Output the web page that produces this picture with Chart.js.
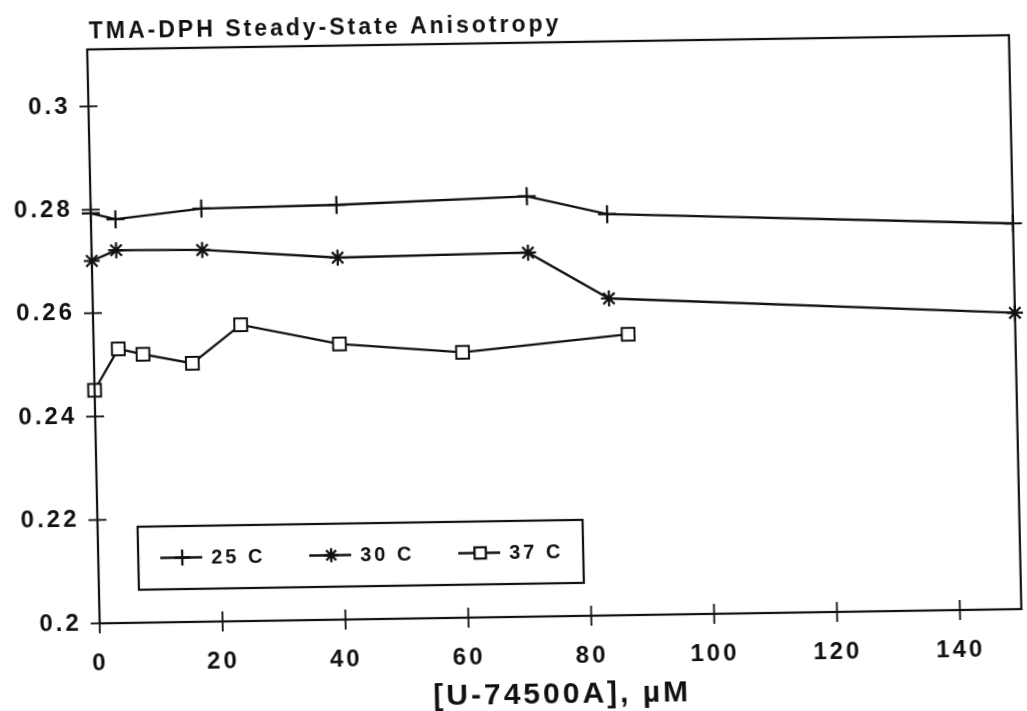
<!DOCTYPE html>
<html><head><meta charset="utf-8">
<script src="https://cdn.jsdelivr.net/npm/chart.js@4.4.1/dist/chart.umd.min.js"></script>
<style>
html,body{margin:0;padding:0;background:#fff;overflow:hidden}
#wrap{width:1027px;height:711px;transform:matrix(1,-0.0155,0.0217,1,0,0);transform-origin:513.5px 355.5px}
canvas{display:block}
</style></head><body>
<div id="wrap"><canvas id="c" width="1027" height="711"></canvas></div>
<script>
const chartTitle = 'TMA-DPH Steady-State Anisotropy';
const xAxisTitle = '[U-74500A], µM';
const seriesLabels = ['25 C', '30 C', '37 C'];
const x25 = [0, 4, 18, 40, 71, 84, 150];
const y25 = [0.2793, 0.2781, 0.2799, 0.2802, 0.2813, 0.2776, 0.2746];
const x30 = [0, 4, 18, 40, 71, 84, 150];
const y30 = [0.2701, 0.2721, 0.2719, 0.2700, 0.2704, 0.2613, 0.2573];
const x37 = [0, 4, 8, 16, 24, 40, 60, 87];
const y37 = [0.2451, 0.2530, 0.2519, 0.2500, 0.2573, 0.2533, 0.2513, 0.2543];
const xTicks = [0, 20, 40, 60, 80, 100, 120, 140];
const yTicks = [0.2, 0.22, 0.24, 0.26, 0.28, 0.3];
const xRange = [0, 150];
const yRange = [0.2, 0.311];

const INK = '#111';
const FONT = '"Liberation Sans", Arial, sans-serif';
const pts = (xs, ys) => xs.map((x, i) => ({x: x, y: ys[i]}));

const styles = [
  {pointStyle: 'cross', radius: 9, legendRadius: 8, bw: 2.2},
  {pointStyle: 'star', radius: 8, legendRadius: 7, bw: 2.2},
  {pointStyle: 'rect', radius: 9, legendRadius: 8, bw: 2}
];
const seriesData = [pts(x25, y25), pts(x30, y30), pts(x37, y37)];

const datasets = seriesData.map((d, i) => ({
  label: seriesLabels[i],
  data: d,
  borderColor: INK,
  borderWidth: 2.3,
  pointStyle: styles[i].pointStyle,
  pointRadius: styles[i].radius,
  pointBorderColor: INK,
  pointBorderWidth: styles[i].bw,
  pointBackgroundColor: '#fff',
  tension: 0,
  clip: false
}));

const spacingPlugin = {
  id: 'spacing',
  beforeDraw(chart) { chart.ctx.letterSpacing = '3px'; }
};

const framePlugin = {
  id: 'frame',
  afterDatasetsDraw(chart) {
    const ctx = chart.ctx, a = chart.chartArea, xs = chart.scales.x, ys = chart.scales.y;
    ctx.save();
    ctx.strokeStyle = INK;
    ctx.lineWidth = 2.2;
    ctx.strokeRect(a.left, a.top, a.right - a.left, a.bottom - a.top);
    ctx.lineWidth = 1.8;
    xs.ticks.forEach(t => {
      const px = xs.getPixelForValue(t.value);
      ctx.beginPath(); ctx.moveTo(px, a.bottom - 10); ctx.lineTo(px, a.bottom + 10); ctx.stroke();
    });
    ys.ticks.forEach(t => {
      const py = ys.getPixelForValue(t.value);
      ctx.beginPath(); ctx.moveTo(a.left - 9, py); ctx.lineTo(a.left + 9, py); ctx.stroke();
    });
    // title
    ctx.fillStyle = INK;
    ctx.letterSpacing = '3px';
    ctx.font = 'bold 23px ' + FONT;
    ctx.textAlign = 'left';
    ctx.textBaseline = 'middle';
    ctx.fillText(chartTitle, a.left + 2, 26);
    // legend box
    const bl = a.left + 40, bt = a.bottom - 96, bw = 445, bh = 63;
    ctx.lineWidth = 2.2;
    ctx.fillStyle = '#fff';
    ctx.fillRect(bl, bt, bw, bh);
    ctx.strokeRect(bl, bt, bw, bh);
    const cy = bt + bh / 2;
    chart.data.datasets.forEach((ds, i) => {
      const sx = bl + 22 + i * 149;
      ctx.strokeStyle = INK;
      ctx.lineWidth = 2.3;
      ctx.beginPath(); ctx.moveTo(sx, cy); ctx.lineTo(sx + 42, cy); ctx.stroke();
      ctx.fillStyle = '#fff';
      Chart.helpers.drawPoint(ctx, {pointStyle: ds.pointStyle, radius: styles[i].legendRadius, rotation: 0, borderWidth: styles[i].bw}, sx + 22, cy);
      ctx.fillStyle = INK;
      ctx.font = 'bold 20px ' + FONT;
      ctx.textAlign = 'left';
      ctx.textBaseline = 'middle';
      ctx.fillText(ds.label, sx + 51, cy + 1);
    });
    ctx.restore();
  }
};

new Chart(document.getElementById('c'), {
  type: 'line',
  data: {datasets: datasets},
  options: {
    responsive: false,
    animation: false,
    devicePixelRatio: 1,
    layout: {padding: {top: 43, right: 7, left: 0, bottom: 0}},
    plugins: {legend: {display: false}, title: {display: false}, tooltip: {enabled: false}},
    scales: {
      x: {
        type: 'linear', min: xRange[0], max: xRange[1],
        afterBuildTicks: s => { s.ticks = xTicks.map(v => ({value: v})); },
        afterFit: s => { s.height = 94; },
        grid: {display: false, drawTicks: false},
        border: {display: false},
        ticks: {autoSkip: false, maxRotation: 0, padding: 26, color: INK,
          font: {family: FONT, weight: 'bold', size: 24},
          callback: v => String(v)},
        title: {display: true, text: xAxisTitle, color: INK,
          font: {family: FONT, weight: 'bold', size: 30, lineHeight: 1},
          padding: {top: 0, bottom: 0}}
      },
      y: {
        type: 'linear', min: yRange[0], max: yRange[1],
        afterBuildTicks: s => { s.ticks = yTicks.map(v => ({value: v})); },
        afterFit: s => { s.width = 94; },
        grid: {display: false, drawTicks: false},
        border: {display: false},
        ticks: {autoSkip: false, padding: 18, color: INK,
          font: {family: FONT, weight: 'bold', size: 24},
          callback: v => String(+Number(v).toFixed(3))}
      }
    }
  },
  plugins: [spacingPlugin, framePlugin]
});
</script>
</body></html>
